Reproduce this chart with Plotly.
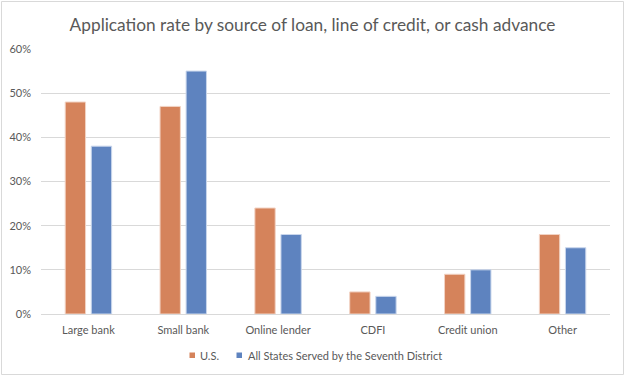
import plotly.graph_objects as go

categories = ["Large bank", "Small bank", "Online lender", "CDFI", "Credit union", "Other"]
us_values = [48, 47, 24, 5, 9, 18]
seventh_values = [38, 55, 18, 4, 10, 15]
series_names = ["U.S.", "All States Served by the Seventh District"]
series_colors = ["#D5835B", "#5E83BF"]
tick_vals = [0, 10, 20, 30, 40, 50, 60]
tick_text = [f"{v}%" for v in tick_vals]

W, H = 625, 376
ml, mr, mt, mb = 41, 15, 49, 62
pw, ph = W - ml - mr, H - mt - mb
FONT = "Lato, Open Sans, sans-serif"


def px_x(px):
    return (px - ml) / pw


def px_y(py):
    return (H - mb - py) / ph


fig = go.Figure()
fig.add_trace(go.Bar(x=categories, y=us_values, name=series_names[0], showlegend=False,
                     marker=dict(color=series_colors[0], line=dict(color="#F2D3C4", width=1))))
fig.add_trace(go.Bar(x=categories, y=seventh_values, name=series_names[1], showlegend=False,
                     marker=dict(color=series_colors[1], line=dict(color="#C9D6EC", width=1))))

# Legend drawn Excel-style: small square + label
legend_items = [(189.5, 197.5), (236.5, 245.5)]
shapes = [dict(type="rect", xref="paper", yref="paper",
               x0=px_x(1.5), x1=px_x(W - 1.5), y0=px_y(H - 1.5), y1=px_y(1.5),
               line=dict(color="#D9D9D9", width=1), fillcolor="rgba(0,0,0,0)", layer="below")]
annotations = []
for (sx, tx), name, col in zip(legend_items, series_names, series_colors):
    shapes.append(dict(type="rect", xref="paper", yref="paper",
                       x0=px_x(sx), x1=px_x(sx + 5.5), y0=px_y(358), y1=px_y(352.5),
                       line=dict(width=0), fillcolor=col))
    annotations.append(dict(text=name, xref="paper", yref="paper", x=px_x(tx), y=px_y(355.5),
                            xanchor="left", yanchor="middle", showarrow=False,
                            font=dict(size=11, color="#595959", family=FONT)))

fig.update_layout(
    width=W, height=H,
    margin=dict(l=ml, r=mr, t=mt, b=mb, autoexpand=False),
    paper_bgcolor="white", plot_bgcolor="white",
    font=dict(family=FONT, color="#595959", size=11),
    title=dict(text="Application rate by source of loan, line of credit, or cash advance",
               x=0.5, xanchor="center", y=1 - 25 / H, yanchor="middle",
               font=dict(size=17.3, color="#595959", family=FONT)),
    barmode="group", bargap=0.45, bargroupgap=0.22,
    showlegend=False,
    xaxis=dict(showgrid=False, ticks="", showline=True, linecolor="#D9D9D9", linewidth=1,
               tickfont=dict(size=11, color="#595959"), automargin=False, ticklabelstandoff=6),
    yaxis=dict(range=[0, 60], tickvals=tick_vals, ticktext=tick_text, showgrid=True,
               gridcolor="#D9D9D9", gridwidth=1, zeroline=False, showline=False,
               tickfont=dict(size=11, color="#595959"), ticklabelstandoff=9, automargin=False),
    shapes=shapes,
    annotations=annotations,
)

fig.write_html("out.html", config={"displayModeBar": False},
               post_script="document.body.style.margin='0px';")
